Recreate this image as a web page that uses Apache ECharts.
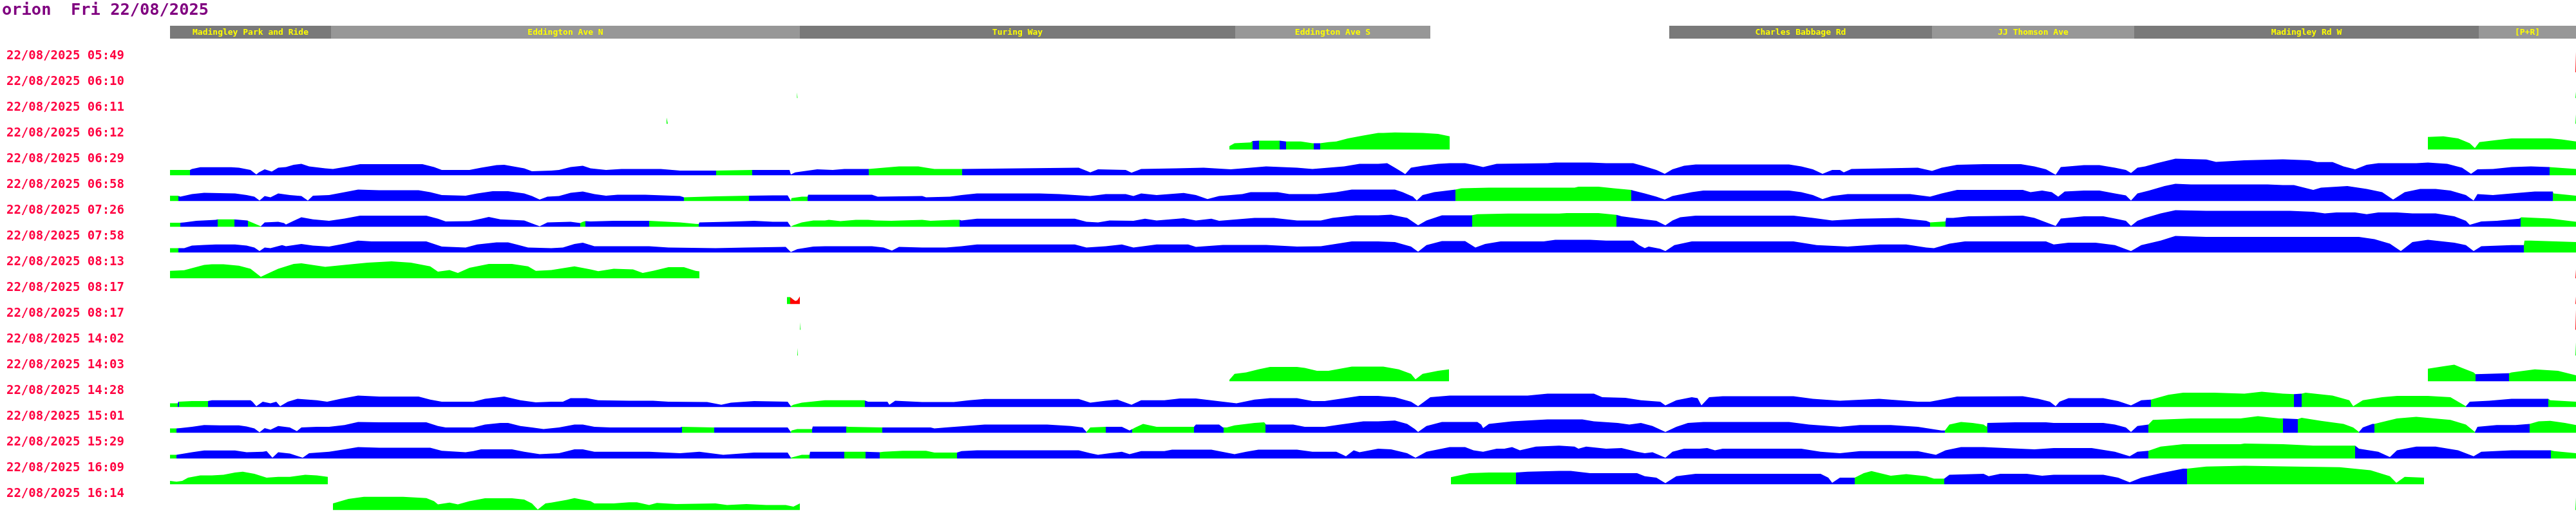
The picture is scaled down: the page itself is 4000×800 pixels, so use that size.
<!DOCTYPE html>
<html><head><meta charset="utf-8">
<script src="https://cdn.jsdelivr.net/npm/echarts@6/dist/echarts.min.js"></script>
<style>html,body{margin:0;padding:0;background:#fff}#c{width:4000px;height:800px}</style>
</head><body><div id="c"></div>
<script>
const titleText = 'orion  Fri 22/08/2025';
const rowLabels = ['22/08/2025 05:49','22/08/2025 06:10','22/08/2025 06:11','22/08/2025 06:12','22/08/2025 06:29','22/08/2025 06:58','22/08/2025 07:26','22/08/2025 07:58','22/08/2025 08:13','22/08/2025 08:17','22/08/2025 08:17','22/08/2025 14:02','22/08/2025 14:03','22/08/2025 14:28','22/08/2025 15:01','22/08/2025 15:29','22/08/2025 16:09','22/08/2025 16:14'];
const stops = ['Madingley Park and Ride','Eddington Ave N','Turing Way','Eddington Ave S','Charles Babbage Rd','JJ Thomson Ave','Madingley Rd W','[P+R]'];
const stopStart = [0,250,978,1654,2328,2736,3050,3585];
const stopEnd = [250,978,1654,1957,2736,3050,3585,3736];

// profiles: [distance along route, value]; segments: [start distance, status]
const prof_0549 = [[3735,0],[3735,31.5],[3736,31.5]];
const seg_0549 = [[0,'R']];
const prof_0610 = [[973.5,0],[973.5,9],[974.5,9],[974.5,0],[3735,0],[3735,10],[3736,10]];
const seg_0610 = [[0,'G']];
const prof_0611 = [[771,0],[771,10],[773,10],[773,0],[3735,0],[3735,15],[3736,15]];
const seg_0611 = [[0,'G']];
const prof_0612 = [[1645,0],[1645,5.6],[1653,10],[1678,11.3],[1681,13.6],[1691,14],[1723,14],[1724,12.7],[1733,12.7],[1734,14.6],[1756,12.7],[1774,10],[1786,10],[1787,11.8],[1799,11.8],[1811,12.7],[1829,17.4],[1853,22],[1876,25.9],[1884,26],[1902,26.8],[1945,26],[1969,24.5],[1987,20.7],[1987,0],[3506,0],[3506,19.8],[3530,20.7],[3553,17.4],[3571,10],[3579,2.4],[3586,11.8],[3613,15],[3636,17.4],[3696,17.4],[3713,16],[3736,12.7]];
const seg_0612 = [[0,'G'],[1681,'B'],[1691,'G'],[1723,'B'],[1733,'G'],[1776,'B'],[1786,'G']];
const prof_0629 = [[0,8.5],[31,8.5],[34,10],[47,12.7],[95,12.7],[107,12],[125,8.5],[134,1.4],[138,4.7],[147,9.4],[158,6],[168,12],[180,13],[192,16.5],[204,18],[216,14],[241,11],[253,10],[277,14],[295,17.4],[392,17.4],[410,13],[422,8.5],[465,8.5],[483,12],[507,16],[519,16.5],[550,11],[562,6.6],[592,7.5],[604,8.5],[622,13],[641,15],[653,11],[677,8.5],[701,10],[762,10],[792,7.5],[846,7.5],[848,6.6],[904,8.5],[962,8.5],[964,1.4],[971,4.7],[987,7],[1005,9.4],[1029,8.5],[1047,10],[1085,10],[1120,13],[1132,14],[1162,14],[1174,12],[1187,10],[1230,10],[1231,12],[1411,12],[1429,4.7],[1441,9.4],[1484,8.5],[1493,4.2],[1508,10],[1562,11],[1605,12],[1647,9.4],[1678,12],[1702,14],[1750,12],[1774,10],[1823,14],[1847,18],[1876,18],[1890,19],[1902,12],[1914,4.7],[1918,2],[1927,12],[1945,15],[1969,18],[1987,19],[2011,19],[2024,16.5],[2039,13],[2060,18],[2139,19],[2151,20],[2205,20],[2230,19],[2272,19],[2290,14],[2308,8.5],[2321,2.4],[2333,9.4],[2351,15],[2369,17],[2514,17],[2533,14],[2551,9.4],[2566,2.4],[2581,8.5],[2593,8.5],[2599,4.7],[2611,10],[2714,12],[2736,7],[2751,12],[2775,16.5],[2816,17.4],[2874,17.4],[2895,14],[2913,9.4],[2928,1],[2936,13],[2972,16],[2996,16],[3020,12],[3037,8.5],[3045,3.8],[3055,12],[3067,14],[3085,19],[3114,26],[3162,24.7],[3177,21],[3221,23.5],[3281,25],[3322,23.5],[3334,20.7],[3358,20.7],[3375,14],[3393,9.4],[3411,16.5],[3429,19],[3488,19],[3506,20],[3536,18],[3559,12],[3573,2.4],[3583,9.4],[3607,10],[3636,13],[3666,14],[3694,13],[3695,12],[3736,10]];
const seg_0629 = [[0,'G'],[31.5,'B'],[848,'G'],[904,'B'],[1085,'G'],[1230.5,'B'],[3694.5,'G']];
const prof_0658 = [[0,8.5],[12,8.5],[16,7],[34,11],[53,13],[101,12],[119,9.4],[131,7],[139,1],[147,8],[156,6],[168,12],[186,9.4],[204,8],[214,1],[222,8.5],[247,9.4],[271,14],[292,18],[325,17],[386,17],[404,14],[422,9.4],[459,8.5],[477,12],[501,15.5],[525,15.5],[550,12],[562,8],[574,2.4],[586,7],[604,8],[622,13],[641,15],[659,11],[677,8.5],[695,10],[738,10],[792,8],[798,6],[847,7.5],[899,8.5],[900,9.4],[936,9],[959,9],[964,0.5],[965,4.7],[981,7],[990,7],[991,10],[1090,10],[1099,7],[1168,8],[1174,6],[1211,7],[1229,9.4],[1253,12],[1350,12],[1381,11],[1429,8],[1453,11],[1484,11],[1496,8],[1508,12],[1532,9.4],[1574,12.7],[1593,9.4],[1611,3.3],[1629,8],[1665,11],[1678,14],[1720,14],[1738,11],[1781,11],[1811,14],[1835,18],[1876,18],[1902,18],[1914,14],[1930,7],[1936,1],[1945,9.4],[1963,14],[1996,18],[2005,20],[2048,21],[2181,21],[2187,22.6],[2218,22.6],[2242,20],[2269,17.4],[2272,16.5],[2290,12],[2308,7],[2321,2.4],[2333,8],[2363,14],[2381,16.5],[2514,16.5],[2533,14],[2551,9.4],[2566,3.3],[2581,8],[2605,11],[2702,11],[2733,7],[2751,12],[2775,17.4],[2877,17.4],[2889,14],[2907,16.5],[2922,14],[2932,7],[2942,15],[2972,16.5],[2996,16.5],[3020,12],[3037,9],[3045,1],[3055,12],[3073,16.5],[3097,23.5],[3114,27],[3138,26],[3257,26],[3281,25],[3298,25],[3328,17.4],[3340,21],[3381,23.5],[3411,19],[3435,14],[3452,2.4],[3470,14],[3494,19],[3518,19],[3541,16.5],[3565,9.4],[3577,1],[3583,11],[3607,9.4],[3636,12],[3672,15],[3700,15],[3701,12],[3736,8.5]];
const seg_0658 = [[0,'G'],[12.5,'B'],[798,'G'],[899.5,'B'],[964,'G'],[990.5,'B'],[1996,'G'],[2269,'B'],[3700.5,'G']];
const prof_0726 = [[0,6.6],[16,6.6],[17,7],[22,7],[41,9.4],[71,11],[74,11.8],[99,11.8],[100,10],[120,10],[121,9.4],[141,1],[147,7],[168,8],[177,6],[180,3.8],[192,9.4],[204,15],[222,11.8],[247,9.4],[271,13],[295,17.4],[398,17.4],[416,12.7],[428,8.5],[465,9],[483,12.7],[495,15.5],[513,11.8],[550,10],[562,5.6],[574,1],[586,7],[622,8],[637,6],[641,8],[645,9],[653,8.5],[689,9.4],[744,9.4],[792,7],[816,4.7],[821,4.5],[822,7],[865,8],[907,9.4],[936,8],[959,8],[964,0.5],[968,2.4],[981,7],[999,10],[1017,10],[1023,11],[1041,9],[1065,11],[1084,11],[1096,10],[1120,9.4],[1168,11],[1181,9.4],[1217,11],[1226,11],[1229,10],[1253,12.7],[1405,12.7],[1423,8],[1441,7],[1459,10],[1496,9.4],[1514,12.7],[1532,10],[1574,13.6],[1593,10],[1617,12.7],[1629,9.4],[1684,14],[1714,14],[1750,10],[1787,10],[1805,14],[1841,18],[1876,18],[1896,19],[1921,14],[1938,2.4],[1951,10],[1975,17.9],[2021,17.9],[2030,19.8],[2078,20.7],[2157,20.7],[2169,21.6],[2218,21.6],[2246,18.8],[2254,16.5],[2290,11.8],[2308,9.4],[2322,2.4],[2333,10],[2345,15],[2369,17.4],[2521,17.4],[2551,14],[2581,10],[2624,12.7],[2684,14],[2727,9.4],[2733,7],[2757,8.5],[2758,14],[2769,14],[2793,16.5],[2877,17.4],[2895,14],[2928,1.4],[2936,13],[2972,16.5],[3002,16.5],[3020,13],[3037,9.4],[3045,1.4],[3055,9.4],[3067,14],[3091,21],[3114,25.9],[3162,25],[3292,25],[3328,23.5],[3346,21],[3364,22.6],[3393,22.6],[3411,19.8],[3429,22.6],[3458,22.6],[3482,21],[3518,21],[3547,16.5],[3565,9.4],[3571,3.3],[3589,8.5],[3613,9.4],[3648,12.7],[3651,15],[3696,13],[3736,8]];
const seg_0726 = [[0,'G'],[16.5,'B'],[74,'G'],[99.5,'B'],[120.5,'G'],[141,'B'],[637,'G'],[645,'B'],[744,'G'],[821.5,'B'],[964,'G'],[1226.5,'B'],[2022,'G'],[2246,'B'],[2733,'G'],[2757.5,'B'],[3650,'G']];
const prof_0758 = [[0,7],[13,7],[22,7],[34,11],[53,12],[71,12.7],[101,12.7],[119,11],[131,8],[139,2.4],[147,8],[156,7],[174,11.8],[180,10],[204,13.6],[222,11],[247,9.4],[271,14],[292,18.8],[313,17.4],[398,17.4],[410,13.6],[422,9.4],[459,8],[477,12.7],[507,16],[525,16],[538,12.7],[556,8],[592,7],[610,8],[628,13.6],[641,15.5],[659,10],[744,10],[774,8],[847,7],[895,8],[956,9],[964,1],[974,5.6],[999,9.4],[1017,10],[1090,10],[1108,8],[1121,3.3],[1132,9],[1168,8],[1205,8],[1229,10],[1253,12.7],[1405,12.7],[1423,8],[1453,10],[1478,12.7],[1496,8],[1532,12.7],[1581,12.7],[1593,9],[1635,12],[1702,12],[1750,9.4],[1787,10],[1835,17.4],[1876,17.4],[1902,16.5],[1927,9.4],[1938,1.4],[1951,11.8],[1975,17.9],[2011,17.9],[2021,11.8],[2027,8],[2042,13.6],[2066,17.4],[2133,17.4],[2151,20],[2205,20],[2230,18.8],[2272,18.8],[2281,11.8],[2290,7],[2296,9.4],[2314,6],[2322,2.4],[2336,11.8],[2363,17.4],[2521,17.4],[2557,11.8],[2605,9.4],[2654,12.7],[2696,12.7],[2727,8],[2739,7],[2763,14],[2787,17.4],[2913,17.4],[2925,12.7],[2948,15.5],[2990,15.5],[3020,11.8],[3045,2.4],[3061,11.8],[3091,18.8],[3114,25.9],[3162,24.5],[3399,24.5],[3423,21],[3447,14],[3464,2.4],[3482,16.5],[3506,20],[3547,15.5],[3565,11.8],[3577,2.4],[3589,10],[3636,11.8],[3655,11.8],[3656,18.8],[3666,18.8],[3736,16.5]];
const seg_0758 = [[0,'G'],[13,'B'],[3655.5,'G']];
const prof_0813 = [[0,11.8],[22,12.7],[53,21],[65,22],[83,22],[107,19.8],[125,15],[141,2.4],[156,9.4],[168,15],[192,22.6],[204,23.5],[241,18],[271,21],[307,24.5],[344,26.4],[374,24.5],[404,18.8],[416,10.4],[434,13],[447,8.5],[465,16.5],[495,22.6],[531,22.6],[556,18.8],[568,11.8],[592,13],[628,18.8],[653,14],[665,11.3],[689,15],[719,14],[734,8.5],[750,11.8],[774,17.4],[798,17.4],[816,11.8],[822,11],[822,0],[3735,0],[3735,14],[3736,14]];
const seg_0813 = [[0,'G'],[3735,'R']];
const prof_0817a = [[958,0],[958,11],[963,11],[963,9],[968,7],[971,5],[974,6],[976,9],[978,12],[978,0],[3735,0],[3735,12],[3736,12]];
const seg_0817a = [[0,'G'],[963,'R']];
const prof_0817b = [[978,0],[978,12],[979,12],[979,0],[3735,0],[3735,31.5],[3736,31.5]];
const seg_0817b = [[0,'G'],[3735,'R']];
const prof_1402 = [[974,0],[974,12],[975,12],[975,0],[3735,0],[3735,21],[3736,21]];
const seg_1402 = [[0,'G']];
const prof_1403 = [[1645,0],[1645,2.4],[1653,11.8],[1671,14],[1690,18.8],[1708,22.6],[1750,22.6],[1762,21],[1781,16.5],[1799,16.5],[1817,19.8],[1835,23],[1884,23],[1908,18.8],[1927,11.8],[1934,3.3],[1945,11.8],[1969,16.5],[1986,18.8],[1986,0],[3506,0],[3506,19.8],[3530,23.5],[3547,25.9],[3559,21],[3577,14],[3580,11.3],[3632,12.7],[3636,14],[3672,18.8],[3708,16.5],[3736,9.4]];
const seg_1403 = [[0,'G'],[3580,'B'],[3632,'G']];
const prof_1428 = [[0,6],[12,6],[13,8.5],[34,9.4],[59,9.4],[65,10.8],[125,10.8],[128,8.5],[134,1.4],[144,8.5],[156,6],[165,8.5],[171,1.4],[183,8.5],[198,13],[228,10.8],[244,8.5],[265,13],[292,17.9],[325,16.5],[386,16.5],[404,11.8],[422,8.5],[471,8.5],[489,13],[519,16.5],[544,10.8],[568,7.5],[592,8.5],[610,8.5],[622,14],[647,14],[665,10.8],[713,10],[750,10],[774,8.5],[834,8],[856,3.8],[871,7],[907,9.4],[959,8.5],[964,1.4],[968,3.8],[981,7],[1005,9.4],[1017,10.8],[1078,10.8],[1084,8.5],[1114,8.5],[1117,3.8],[1126,10],[1168,8],[1217,8],[1241,10.8],[1265,12.7],[1411,12.7],[1429,7],[1453,10],[1471,11.8],[1493,3.8],[1508,10.8],[1544,10.8],[1568,13.6],[1593,13.6],[1635,8.5],[1656,6],[1684,11.8],[1708,14],[1750,14],[1774,9.4],[1793,9.4],[1817,13],[1847,17.4],[1876,17.4],[1902,15.5],[1927,8.5],[1938,1.4],[1957,15.5],[1987,17.9],[2108,17.9],[2139,21],[2211,21],[2224,15.5],[2260,14.6],[2284,10.8],[2314,8.5],[2322,2.8],[2339,10.8],[2363,15.5],[2372,14],[2378,2.8],[2390,15.5],[2411,17],[2521,17],[2551,13],[2593,10],[2654,13],[2714,8.5],[2733,8.5],[2757,13],[2775,16.5],[2877,17],[2901,13],[2919,8.5],[2928,1.4],[2934,8.5],[2948,14],[3002,14],[3025,9.4],[3045,2.8],[3061,10.8],[3076,11.8],[3103,19.3],[3126,22.6],[3174,22.6],[3221,21],[3248,24],[3281,21],[3298,20.2],[3310,21],[3316,22.6],[3358,17.9],[3384,10.8],[3390,1.4],[3405,10.8],[3435,15.5],[3458,17.4],[3506,17.4],[3541,15.5],[3565,1.4],[3571,8.5],[3601,10],[3636,13],[3693,13],[3696,10.8],[3736,8.5]];
const seg_1428 = [[0,'G'],[12,'B'],[14,'G'],[59,'B'],[964,'G'],[1079,'B'],[3076,'G'],[3298,'B'],[3310,'G'],[3565,'B'],[3693,'G']];
const prof_1501 = [[0,7],[10,7],[16,7.5],[34,9.4],[53,12.2],[77,11.8],[107,11.8],[119,10],[131,7],[139,1],[147,7.5],[156,5],[168,10.8],[186,8.5],[197,2.8],[204,8.5],[228,9.4],[247,9.4],[271,12.2],[292,17],[325,16.5],[398,16.5],[416,10.8],[428,8.5],[471,8.5],[489,13],[513,15.5],[525,15.5],[544,10.8],[562,8.5],[580,6],[604,8.5],[628,13],[641,13],[659,9.4],[683,8.5],[792,8.5],[795,9.4],[844,8.5],[845,7.5],[936,8.5],[959,8.5],[964,1.4],[965,3.8],[974,6],[997,6],[998,10],[1050,10],[1053,9.4],[1106,8.5],[1181,8.5],[1187,7],[1205,8.5],[1235,10.8],[1265,13],[1362,13],[1399,10.8],[1417,8.5],[1423,1.4],[1429,8.5],[1453,9.4],[1478,9.4],[1490,3.8],[1499,8.5],[1511,14],[1532,9.4],[1590,9.4],[1593,13],[1629,13],[1635,8.5],[1641,8.5],[1653,11.8],[1684,15.5],[1699,16.5],[1702,13],[1744,13],[1762,9.4],[1793,9.4],[1817,13],[1853,17.9],[1876,17.9],[1902,19.3],[1921,14],[1933,6],[1938,1.4],[1951,10.8],[1975,17],[2030,17],[2036,13],[2039,7.5],[2048,14],[2084,17.9],[2139,21],[2193,21],[2211,17.9],[2248,15.5],[2266,13],[2284,15.5],[2302,10.8],[2322,1.4],[2339,9.4],[2357,15.5],[2381,17],[2514,17],[2545,13],[2593,9.4],[2624,12.2],[2672,12.2],[2714,9.4],[2751,3.8],[2756,3.8],[2763,13],[2781,17],[2799,15.5],[2816,13],[2821,9.4],[2822,15.5],[2865,16.5],[2913,16.5],[2925,15.5],[3002,15.5],[3020,13],[3037,8.5],[3045,1.4],[3055,10.8],[3072,13],[3079,20.2],[3138,22.6],[3215,22.6],[3242,25.9],[3275,22.6],[3281,22.6],[3304,21.6],[3310,23.5],[3340,18.8],[3375,14],[3390,8.5],[3399,1.4],[3405,8.5],[3420,14],[3423,14],[3429,15.5],[3458,22.6],[3488,25],[3541,20.2],[3565,13],[3579,1.4],[3583,9.4],[3613,12.2],[3642,12.2],[3664,14],[3678,17.9],[3696,18.8],[3719,15.5],[3736,12.2]];
const seg_1501 = [[0,'G'],[10,'B'],[795,'G'],[844.5,'B'],[964,'G'],[997.5,'B'],[1050,'G'],[1106,'B'],[1423,'G'],[1453,'B'],[1494,'G'],[1590,'B'],[1636,'G'],[1701,'B'],[2756,'G'],[2821.5,'B'],[3072,'G'],[3281,'B'],[3304,'G'],[3399,'B'],[3423,'G'],[3579,'B'],[3664,'G']];
const prof_1529 = [[0,6],[10,6],[16,7],[34,10],[53,12.7],[101,12.7],[119,10],[144,10.8],[150,11.8],[159,1.4],[168,10],[186,8],[206,1.4],[216,8.5],[247,10.8],[271,14.6],[292,17.9],[325,17],[404,17],[422,12.2],[459,10],[471,11.8],[483,14.6],[531,14.6],[550,10.8],[574,7],[604,8.5],[628,14.6],[641,14.6],[659,10.8],[744,10.8],[792,8.5],[822,10.8],[859,6],[907,9.4],[959,9.4],[964,1.4],[965,2.4],[981,6],[993,6],[994,10.8],[1047,10.8],[1079,10.8],[1080,10],[1102,10],[1108,10.8],[1138,12.2],[1174,12.2],[1187,9.4],[1222,9.4],[1229,11.8],[1253,13],[1411,13],[1429,8.5],[1441,6],[1459,8.5],[1478,10.8],[1490,7],[1508,11.8],[1544,11.8],[1556,14],[1617,14],[1653,7],[1671,10.8],[1690,14],[1750,14],[1774,10.8],[1811,10.8],[1826,3.8],[1838,13],[1847,10],[1876,15.5],[1896,14.6],[1921,8.5],[1934,1.4],[1951,10.8],[1987,17.9],[2011,17.9],[2024,13],[2039,10.8],[2060,15.5],[2072,15.5],[2084,17.9],[2096,13],[2121,18.8],[2157,20.2],[2181,18.8],[2187,15.5],[2199,18.8],[2230,15.5],[2254,16.5],[2278,10.8],[2290,8.5],[2302,10],[2322,1.4],[2333,10.8],[2351,15.5],[2375,15.5],[2387,16.5],[2399,13],[2411,15.5],[2533,15.5],[2563,10.8],[2593,8.5],[2624,11.8],[2714,11.8],[2742,6],[2757,13],[2781,17.9],[2816,17.9],[2895,14.6],[2925,16.5],[2984,16.5],[3020,10.8],[3043,3.8],[3055,10.8],[3072,12.2],[3091,18.8],[3126,22.6],[3215,22.6],[3221,23.5],[3281,22.6],[3328,20.2],[3393,20.2],[3399,15.5],[3429,10.8],[3447,2.4],[3458,13],[3488,18.8],[3518,18.8],[3553,13],[3577,3.8],[3589,10.8],[3636,13],[3697,13],[3702,11.8],[3736,8.5]];
const seg_1529 = [[0,'G'],[10,'B'],[964,'G'],[993.5,'B'],[1047,'G'],[1079.5,'B'],[1102,'G'],[1222,'B'],[3072,'G'],[3393,'B'],[3697,'G']];
const prof_1609 = [[0,5.6],[10,4.2],[19,5.6],[28,10.4],[47,14],[65,14],[83,15],[101,18.4],[113,19.8],[131,16.5],[150,10.4],[168,11.8],[186,11.8],[210,15],[228,14],[245,11.8],[245,0],[1989,0],[1989,11.3],[2018,17.4],[2048,18.4],[2090,18.4],[2108,19.8],[2157,21],[2175,21],[2205,17.4],[2278,17.4],[2290,12.7],[2308,10.4],[2322,1.9],[2339,12.7],[2369,16.5],[2563,16.5],[2575,10.4],[2581,2.4],[2593,10.4],[2616,10.4],[2630,17.4],[2642,20.7],[2672,13.6],[2696,16],[2727,12.7],[2739,9],[2755,9],[2763,15],[2816,16.5],[2824,12.7],[2842,16.5],[2883,16.5],[2907,13.6],[2925,15],[3002,15],[3025,10.4],[3043,3.3],[3061,10.4],[3091,17.4],[3126,24.5],[3132,24.5],[3162,27.8],[3221,29],[3281,28],[3369,26.8],[3417,22],[3447,12.7],[3457,2.4],[3470,11.8],[3500,10.4],[3500,0]];
const seg_1609 = [[0,'G'],[2090,'B'],[2616,'G'],[2755,'B'],[3132,'G']];
const prof_1614 = [[253,0],[253,10.4],[277,17.4],[301,20.7],[362,20.7],[398,18.8],[410,14],[416,8.9],[434,11.8],[447,8.9],[465,14],[489,18.4],[531,18.4],[550,16.5],[562,10.4],[571,1],[583,10.4],[592,11.8],[616,16],[628,18.8],[653,14],[659,10.4],[689,10.4],[713,12.2],[725,12.2],[744,8],[756,11.3],[786,9.4],[847,10.4],[865,8],[895,9.4],[926,8],[956,8],[968,5.6],[978,10.4],[978,0],[3735,0],[3735,20],[3736,20]];
const seg_1614 = [[0,'G']];

const profiles = [prof_0549,prof_0610,prof_0611,prof_0612,prof_0629,prof_0658,prof_0726,prof_0758,prof_0813,prof_0817a,prof_0817b,prof_1402,prof_1403,prof_1428,prof_1501,prof_1529,prof_1609,prof_1614];
const segments = [seg_0549,seg_0610,seg_0611,seg_0612,seg_0629,seg_0658,seg_0726,seg_0758,seg_0813,seg_0817a,seg_0817b,seg_1402,seg_1403,seg_1428,seg_1501,seg_1529,seg_1609,seg_1614];
const statusColor = {G:'#00ff00', B:'#0000ff', R:'#ff0000'};
const routeLen = stopEnd[stopEnd.length - 1];

const grid = [], xAxis = [], yAxis = [], series = [], visualMap = [];
const N = rowLabels.length;
for (let i = 0; i < N; i++) {
  grid.push({left: 264, right: 0, top: 80.5 + 40 * i, height: 32});
  xAxis.push({gridIndex: i, type: 'value', min: 0, max: routeLen, show: false});
  yAxis.push({gridIndex: i, type: 'value', min: 0, max: 32, show: false});
  series.push({type: 'line', xAxisIndex: i, yAxisIndex: i, data: profiles[i], symbol: 'none', showSymbol: false,
    lineStyle: {width: 0}, areaStyle: {opacity: 1}, silent: true, animation: false});
  const seg = segments[i];
  visualMap.push({type: 'piecewise', show: false, seriesIndex: i, dimension: 0,
    pieces: seg.map((s, k) => {
      const p = {color: statusColor[s[1]], gte: k === 0 ? -10 : s[0]};
      if (k < seg.length - 1) p.lt = seg[k + 1][0]; else p.lte = 100000;
      return p;
    })});
}
// row label axis
grid.push({left: 194, width: 10, top: 67.5, height: 720});
xAxis.push({gridIndex: N, type: 'value', show: false});
yAxis.push({gridIndex: N, type: 'category', inverse: true, data: rowLabels,
  axisLine: {show: false}, axisTick: {show: false}, splitLine: {show: false},
  axisLabel: {interval: 0, margin: 1, color: '#ff0040', fontFamily: 'DejaVu Sans Mono', fontWeight: 'bold', fontSize: 19}});
// stop header
grid.push({left: 264, right: 0, top: 40, height: 20});
xAxis.push({gridIndex: N + 1, type: 'value', min: 0, max: routeLen, show: false});
yAxis.push({gridIndex: N + 1, type: 'value', min: 0, max: 1, show: false});
series.push({type: 'custom', xAxisIndex: N + 1, yAxisIndex: N + 1, silent: true, animation: false,
  data: stops.map((n, k) => [stopStart[k], stopEnd[k], k % 2]),
  renderItem: function (params, api) {
    const a = api.coord([api.value(0), 1]);
    const b = api.coord([api.value(1), 0]);
    const name = stops[params.dataIndex];
    return {type: 'group', children: [
      {type: 'rect', shape: {x: a[0], y: a[1], width: b[0] - a[0], height: b[1] - a[1]},
        style: {fill: api.value(2) === 0 ? '#797979' : '#979797'}},
      {type: 'text', style: {text: name, x: (a[0] + b[0]) / 2, y: (a[1] + b[1]) / 2 + 1, align: 'center', verticalAlign: 'middle',
        fill: '#ffff00', font: 'bold 13px "DejaVu Sans Mono"'}}
    ]};
  }});

const chart = echarts.init(document.getElementById('c'), null, {renderer: 'canvas'});
chart.setOption({
  backgroundColor: '#ffffff',
  animation: false,
  title: {text: titleText, left: 3, top: 4, padding: 0,
    textStyle: {color: '#800080', fontFamily: 'DejaVu Sans Mono', fontWeight: 'bold', fontSize: 25.4}},
  grid, xAxis, yAxis, series, visualMap
});
</script></body></html>
